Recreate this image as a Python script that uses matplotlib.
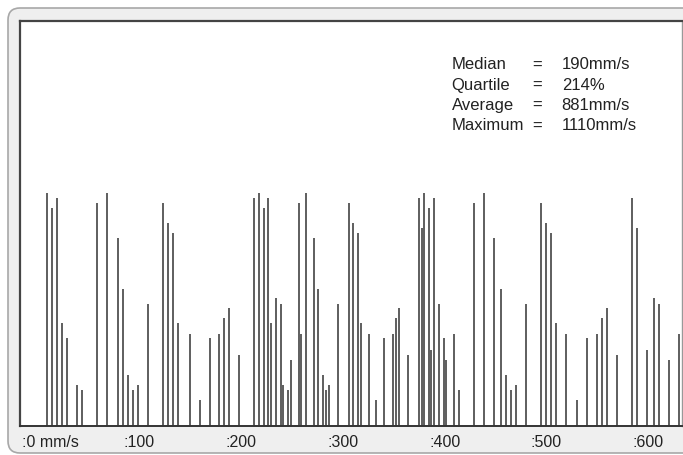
import matplotlib.pyplot as plt
from matplotlib.patches import FancyBboxPatch
from matplotlib.transforms import IdentityTransform

plt.rcParams['font.family'] = ['Liberation Sans', 'DejaVu Sans']

# bar positions (mm/s) and heights
speed_x = [24.6, 29.5, 34.4, 39.3, 44.2, 54.0, 58.9, 73.7, 83.5, 94.9,
           99.8, 104.7, 109.6, 114.5, 124.3, 139.1, 144.0, 148.9, 153.8, 165.3,
           175.1, 184.9, 194.1, 199.0, 203.9, 213.7, 228.4, 233.3, 238.2, 241.6,
           244.8, 249.7, 254.6, 256.1, 261.2, 264.5, 272.6, 274.0, 279.2, 287.3,
           290.7, 295.6, 298.8, 302.1, 310.3, 321.7, 325.1, 330.0, 333.2, 341.4,
           347.9, 356.1, 364.3, 367.6, 370.8, 379.1, 390.5, 393.1, 395.1, 400.3,
           401.5, 405.2, 410.1, 415.0, 416.4, 424.5, 429.7, 444.2, 454.0, 463.8,
           470.4, 475.3, 480.2, 485.1, 494.9, 509.7, 514.6, 519.5, 524.4, 534.2,
           545.6, 555.4, 565.3, 570.2, 575.1, 584.9, 599.6, 604.5, 614.4, 620.9,
           625.8, 635.7, 645.5]
speed_h = [1108, 1037, 1084, 488, 417, 194, 170, 1061, 1108, 897,
           652, 242, 170, 194, 582, 1061, 965, 917, 488, 439,
           122, 417, 439, 512, 560, 337, 1084, 1108, 1037, 1084,
           488, 607, 582, 194, 170, 313, 1061, 439, 1108, 897,
           652, 242, 170, 194, 582, 1061, 965, 917, 488, 439,
           122, 417, 439, 512, 560, 337, 1084, 944, 1108, 1037,
           361, 1084, 582, 417, 313, 439, 170, 1061, 1108, 897,
           652, 242, 170, 194, 582, 1061, 965, 917, 488, 439,
           122, 417, 439, 512, 560, 337, 1084, 944, 361, 607,
           582, 313, 439]

tick_pos = [0, 100, 200, 300, 400, 500, 600]
tick_text = [':0 mm/s', ':100', ':200', ':300', ':400', ':500', ':600']

stat_names = ['Median', 'Quartile', 'Average', 'Maximum']
stat_values = ['190mm/s', '214%', '881mm/s', '1110mm/s']

W, H = 683, 455
fig = plt.figure(figsize=(W / 100, H / 100), dpi=100)
fig.patch.set_facecolor('white')

# outer rounded panel (pixel coordinates)
panel = FancyBboxPatch((8, 2), 720, 445, boxstyle='round,pad=0,rounding_size=12',
                       transform=IdentityTransform(), facecolor='#efefef',
                       edgecolor='#a8a8a8', linewidth=1.2, zorder=-5)
fig.patches.append(panel)

ax = fig.add_axes([20 / W, 29.3 / H, 662 / W, 405 / H])
ax.set_zorder(1)
ax.set_facecolor('white')
ax.vlines(speed_x, 0, speed_h, colors='#333333', linewidth=1.1)

ax.set_xlim(-1.7, 648.4)
ax.set_ylim(0, 1932)
ax.set_yticks([])
ax.set_xticks(tick_pos)
ax.set_xticklabels(tick_text, ha='left', fontsize=11.5, color='#222222')
ax.tick_params(axis='x', length=0, pad=6.5)

for side in ['left', 'top']:
    ax.spines[side].set_color('#444444')
    ax.spines[side].set_linewidth(1.6)
ax.spines['bottom'].set_color('#333333')
ax.spines['bottom'].set_linewidth(1.4)
ax.spines['right'].set_color('#999999')
ax.spines['right'].set_linewidth(1.0)

# statistics block
for i, (name, val) in enumerate(zip(stat_names, stat_values)):
    y = 1 - (65 + i * 20.3) / H
    ax.text(451.7 / W, y, name, transform=fig.transFigure, fontsize=12,
            va='center', ha='left', color='#222222')
    ax.text(537 / W, y, '=', transform=fig.transFigure, fontsize=12,
            va='center', ha='center', color='#222222')
    ax.text(561.7 / W, y, val, transform=fig.transFigure, fontsize=12,
            va='center', ha='left', color='#222222')

fig.savefig('out.png', dpi=100)
